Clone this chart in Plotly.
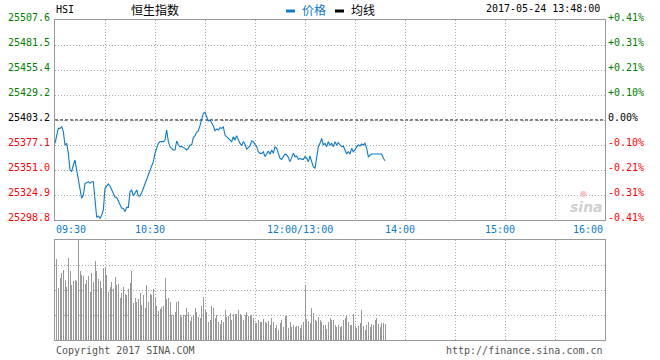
import plotly.graph_objects as go

W, H = 660, 360

# ---------------- data ----------------
symbol = "HSI"
index_name = "恒生指数"
timestamp = "2017-05-24 13:48:00"
legend_names = ["价格", "均线"]
prev_close = 25403.2

price_levels = [25507.6, 25481.5, 25455.4, 25429.2, 25403.2,
                25377.1, 25351.0, 25324.9, 25298.8]
pct_labels = ["+0.41%", "+0.31%", "+0.21%", "+0.10%", "0.00%",
              "-0.10%", "-0.21%", "-0.31%", "-0.41%"]

time_labels = ["09:30", "10:30", "12:00/13:00", "14:00", "15:00", "16:00"]

# one price per trading minute, 09:30 ... 12:00, 13:01 ... 13:48
price = [
    25378.8, 25387.5, 25394.5, 25394.5, 25396.2, 25391.0, 25377.1, 25378.8, 25368.4, 25351.0,
    25349.3, 25356.2, 25361.4, 25351.0, 25340.6, 25330.1, 25321.4, 25324.9, 25337.1, 25337.8,
    25338.8, 25337.1, 25338.8, 25338.8, 25319.7, 25301.6, 25303.0, 25300.5, 25304.0, 25309.2,
    25331.9, 25334.3, 25336.4, 25334.3, 25330.1, 25325.9, 25322.5, 25322.5, 25319.0, 25314.5,
    25311.0, 25311.0, 25307.5, 25312.0, 25312.0, 25328.4, 25330.1, 25323.9, 25326.6, 25330.1,
    25323.9, 25323.9, 25327.3, 25331.9, 25337.8, 25342.3, 25346.8, 25351.0, 25355.2, 25359.7,
    25368.4, 25373.6, 25378.8, 25380.6, 25380.6, 25380.6, 25382.3, 25392.8, 25380.6, 25375.4,
    25373.6, 25371.9, 25371.9, 25381.3, 25377.1, 25375.4, 25375.4, 25374.7, 25373.6, 25371.9,
    25373.6, 25377.1, 25377.1, 25384.8, 25386.9, 25390.3, 25391.7, 25397.3, 25404.2, 25410.2,
    25411.2, 25405.6, 25402.2, 25403.2, 25400.8, 25397.3, 25391.7, 25393.8, 25392.8, 25395.2,
    25394.5, 25395.9, 25387.5, 25385.5, 25384.1, 25382.3, 25380.6, 25385.8, 25382.3, 25386.9,
    25382.3, 25378.8, 25376.4, 25380.6, 25377.8, 25372.9, 25374.3, 25376.4, 25381.3, 25380.6,
    25377.8, 25375.4, 25370.1, 25368.4, 25368.4, 25370.1, 25364.9, 25368.4, 25370.8, 25367.4,
    25371.9, 25368.4, 25375.4, 25373.6, 25368.4, 25363.2, 25362.1, 25365.6, 25367.7, 25366.7,
    25364.2, 25359.7, 25363.2, 25368.4, 25364.9, 25365.6, 25362.1, 25363.2, 25362.1, 25362.1,
    25364.9, 25363.2, 25359.7, 25365.6, 25359.7, 25354.5, 25352.7, 25366.7, 25375.4, 25378.8,
    25384.1, 25377.1, 25378.8, 25375.4, 25380.6, 25377.1, 25378.8, 25375.4, 25380.6, 25377.1,
    25379.5, 25377.1, 25375.4, 25376.1, 25371.9, 25367.7, 25370.1, 25367.7, 25373.6, 25370.1,
    25371.9, 25375.4, 25377.1, 25376.1, 25378.1, 25377.1, 25378.8, 25373.6, 25364.9, 25366.7,
    25367.7, 25367.7, 25367.7, 25368.4, 25368.4, 25368.4, 25367.7, 25363.2, 25360.7,
]

# one volume per minute, 09:31 ... 13:48 (relative units)
volume = [
    80.7, 51.7, 61.7, 66.7, 70.0, 60.0, 53.3, 81.7, 69.0, 55.0,
    59.0, 60.0, 59.0, 100.0, 69.0, 65.0, 64.0, 56.0, 60.0, 64.0,
    48.3, 66.7, 58.3, 79.0, 69.0, 60.7, 59.0, 51.7, 71.7, 71.7,
    65.0, 48.3, 53.3, 57.7, 50.7, 62.7, 55.0, 56.0, 41.7, 46.7,
    52.7, 46.0, 45.0, 50.7, 56.7, 69.0, 37.3, 41.7, 38.3, 41.0,
    46.7, 35.0, 45.0, 31.7, 55.0, 38.3, 45.7, 45.0, 50.7, 41.7,
    34.0, 29.0, 31.0, 33.3, 34.3, 61.7, 41.0, 41.7, 38.0, 25.0,
    25.0, 28.3, 37.7, 39.0, 25.0, 22.7, 25.0, 25.0, 31.7, 27.7,
    19.0, 22.7, 24.0, 31.7, 27.7, 22.7, 21.7, 34.0, 42.7, 30.0,
    27.7, 17.7, 20.0, 34.0, 31.7, 21.7, 25.0, 18.0, 16.0, 20.0,
    17.7, 30.0, 22.7, 24.0, 26.7, 20.0, 26.0, 25.7, 25.7, 30.0,
    26.0, 25.0, 20.0, 25.0, 28.0, 24.0, 24.0, 25.0, 22.3, 17.3,
    17.3, 20.0, 18.0, 18.0, 20.7, 18.0, 17.3, 19.0, 15.0, 22.0,
    18.0, 12.0, 15.0, 10.0, 16.7, 20.0, 13.3, 24.0, 24.0, 12.0,
    18.0, 12.7, 15.0, 13.3, 14.0, 14.0, 12.0, 15.0, 18.0, 54.0,
    21.0, 19.0, 17.0, 32.0, 27.0, 20.0, 19.0, 23.0, 20.0, 18.0,
    15.0, 15.0, 11.0, 18.0, 22.0, 20.0, 20.0, 15.0, 13.0, 15.0,
    13.0, 14.0, 20.0, 22.0, 25.0, 18.0, 15.0, 15.0, 26.0, 14.0,
    12.0, 14.0, 17.0, 30.0, 14.0, 10.0, 15.0, 18.0, 13.0, 16.0,
    15.0, 20.0, 22.0, 16.0, 13.0, 17.0, 17.0, 16.0,
]

# ---------------- session-minute axis ----------------
def minute_index(hhmm):
    h, m = map(int, hhmm.split(":"))
    t = h * 60 + m
    if t <= 12 * 60:
        return t - (9 * 60 + 30)
    return 150 + t - 13 * 60

session_len = minute_index("16:00")          # 330
x_price = list(range(len(price)))            # 0 .. 198
x_vol = list(range(1, len(volume) + 1))      # 1 .. 198
label_pos = [minute_index(t.split("/")[-1]) for t in time_labels]

BLUE = "#0b7bcc"
GREEN = "#008000"
RED = "#ff0000"
GRID = "#aaaaaa"
FRAME = "#999999"
MONO = "DejaVu Sans Mono"
CJK = "Noto Sans CJK SC"

def px_x(px):
    return px / W

def px_y(py):
    return 1 - py / H

fig = go.Figure()

fig.add_trace(go.Scatter(
    x=x_price, y=price, mode="lines",
    line=dict(color=BLUE, width=1.1),
    xaxis="x", yaxis="y", hoverinfo="skip",
))

fig.add_trace(go.Bar(
    x=x_vol, y=volume, width=0.6,
    marker=dict(color="#999999", line=dict(width=0)),
    xaxis="x2", yaxis="y2", hoverinfo="skip",
))

axis_common = dict(
    showline=True, linecolor=FRAME, linewidth=1, mirror=True,
    zeroline=False, showticklabels=False, ticks="",
    showgrid=True, gridcolor=GRID, gridwidth=1, griddash="1px,2px",
    fixedrange=True,
)

dom_x = [55 / W, 605 / W]

fig.update_layout(
    width=W, height=H,
    margin=dict(l=0, r=0, t=0, b=0),
    paper_bgcolor="white", plot_bgcolor="white",
    showlegend=False,
    bargap=0,
    xaxis=dict(domain=dom_x, range=[0, session_len], anchor="y",
               tickmode="linear", tick0=0, dtick=30, **axis_common),
    yaxis=dict(domain=[px_y(220), px_y(20)],
               range=[price_levels[-1], price_levels[0]], anchor="x",
               tickmode="array", tickvals=price_levels, **axis_common),
    xaxis2=dict(domain=dom_x, range=[0, session_len], anchor="y2",
                tickmode="linear", tick0=0, dtick=30, **axis_common),
    yaxis2=dict(domain=[px_y(340), px_y(240)], range=[0, 100], anchor="x2",
                tickmode="array", tickvals=[25, 50, 75], **axis_common),
)

# previous close dashed line
fig.add_shape(type="line", xref="x", yref="y",
              x0=0, x1=session_len, y0=prev_close, y1=prev_close,
              line=dict(color="black", width=1, dash="3px,2px"), layer="below")

ann = []

def lvl_color(v):
    if abs(v - prev_close) < 1e-6:
        return "black"
    return GREEN if v > prev_close else RED

for v, p in zip(price_levels, pct_labels):
    c = lvl_color(v)
    ann.append(dict(xref="paper", yref="y", x=px_x(52), y=v, text=f"{v:.1f}",
                    xanchor="right", yanchor="middle", yshift=2.5, showarrow=False,
                    font=dict(family=MONO, size=10, color=c)))
    ann.append(dict(xref="paper", yref="y", x=px_x(606), y=v, text=p,
                    xanchor="left", yanchor="middle", yshift=2.5, showarrow=False,
                    font=dict(family=MONO, size=10, color=c)))

for i, (t, pos) in enumerate(zip(time_labels, label_pos)):
    if i == 0:
        xa, xs = "left", -1
    elif i == len(time_labels) - 1:
        xa, xs = "right", 0
    else:
        xa, xs = "center", -5
    ann.append(dict(xref="x", yref="paper", x=pos, y=px_y(229), text=t,
                    xanchor=xa, yanchor="middle", xshift=xs, showarrow=False,
                    font=dict(family=MONO, size=10, color=BLUE)))

# header
ann.append(dict(xref="paper", yref="paper", x=px_x(54), y=px_y(9), text=symbol,
                xanchor="left", yanchor="middle", showarrow=False,
                font=dict(family=MONO, size=10, color="black")))
ann.append(dict(xref="paper", yref="paper", x=px_x(154.5), y=px_y(9.5), text=index_name,
                xanchor="center", yanchor="middle", showarrow=False,
                font=dict(family=CJK, size=12, color="black")))
ann.append(dict(xref="paper", yref="paper", x=px_x(300), y=px_y(9.5), text=legend_names[0],
                xanchor="left", yanchor="middle", showarrow=False,
                font=dict(family=CJK, size=12, color=BLUE)))
ann.append(dict(xref="paper", yref="paper", x=px_x(349), y=px_y(9.5), text=legend_names[1],
                xanchor="left", yanchor="middle", showarrow=False,
                font=dict(family=CJK, size=12, color="black")))
ann.append(dict(xref="paper", yref="paper", x=px_x(602), y=px_y(8.5), text=timestamp,
                xanchor="right", yanchor="middle", showarrow=False,
                font=dict(family=MONO, size=10, color="black")))

# footer
ann.append(dict(xref="paper", yref="paper", x=px_x(54), y=px_y(350), text="Copyright 2017 SINA.COM",
                xanchor="left", yanchor="middle", showarrow=False,
                font=dict(family=MONO, size=10, color="#555555")))
ann.append(dict(xref="paper", yref="paper", x=px_x(605), y=px_y(350), text="http://finance.sina.com.cn",
                xanchor="right", yanchor="middle", showarrow=False,
                font=dict(family=MONO, size=10, color="#555555")))

# watermark
ann.append(dict(xref="paper", yref="paper", x=px_x(586), y=px_y(207), text="<b><i>sina</i></b>",
                xanchor="center", yanchor="middle", showarrow=False,
                font=dict(family="DejaVu Sans", size=14, color="#cfcfcf")))
ann.append(dict(xref="paper", yref="paper", x=px_x(583), y=px_y(193), text="●",
                xanchor="center", yanchor="middle", showarrow=False,
                font=dict(family="DejaVu Sans", size=8, color="#f4c8c8")))

fig.update_layout(annotations=ann)

# legend markers
fig.add_shape(type="rect", xref="paper", yref="paper",
              x0=px_x(286), x1=px_x(295), y0=px_y(12.5), y1=px_y(9.5),
              fillcolor=BLUE, line=dict(width=0))
fig.add_shape(type="rect", xref="paper", yref="paper",
              x0=px_x(335), x1=px_x(344), y0=px_y(12.5), y1=px_y(9.5),
              fillcolor="black", line=dict(width=0))

fig.write_html(
    "out.html",
    config={"displayModeBar": False, "staticPlot": True},
    post_script=(
        "document.body.style.margin='0';"
        "document.body.style.overflow='hidden';"
        "document.querySelectorAll('.bars path').forEach(function(p){"
        "p.style.shapeRendering='crispEdges';});"
    ),
)
